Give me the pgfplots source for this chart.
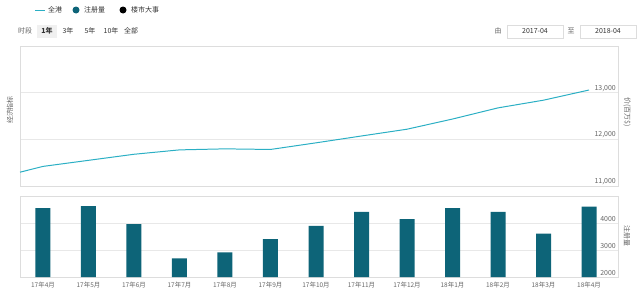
\documentclass[border=0pt]{standalone}
\usepackage{pgfplots}
\pgfplotsset{compat=1.18}
\usepackage{fontspec}
\setmainfont{Noto Sans CJK SC}
\definecolor{linec}{HTML}{2BAFC4}
\definecolor{barc}{HTML}{0D6478}
\definecolor{txt}{HTML}{666666}
\definecolor{dtxt}{HTML}{333333}
\definecolor{gridc}{HTML}{E8E8E8}
\definecolor{axc}{HTML}{DDDDDD}
\pgfplotstableread{
x y
-0.505 11296
0 11420
1 11550
2 11680
3 11774
4 11796
5 11783
6 11925
7 12072
8 12217
9 12435
10 12674
11 12839
12 13057
}\linedata
\pgfplotstableread{
x y
0 4549
1 4623
2 3963
3 2692
4 2912
5 3400
6 3890
7 4414
8 4147
9 4549
10 4414
11 3608
12 4608
}\bardata
\begin{document}
\begin{tikzpicture}[font=\fontsize{7}{8}\selectfont]
\path[use as bounding box] (0,0) rectangle (640bp,-303bp);
% legend
\draw[linec, line width=1pt] (35bp,-10bp) -- (45bp,-10bp);
\node[anchor=west, text=dtxt, inner sep=1bp] at (47bp,-10bp) {全港};
\fill[barc] (76bp,-10bp) circle (3.5bp);
\node[anchor=west, text=dtxt, inner sep=1bp] at (83bp,-10bp) {注册量};
\fill[black] (123bp,-10bp) circle (3.5bp);
\node[anchor=west, text=dtxt, inner sep=1bp] at (130bp,-10bp) {楼市大事};
% toolbar
\node[anchor=west, text=txt, inner sep=1bp] at (17bp,-31bp) {时段};
\fill[gray!12] (37bp,-24.5bp) rectangle (57bp,-37.5bp);
\node[text=dtxt, inner sep=1bp] at (47bp,-31bp) {\bfseries 1年};
\node[text=dtxt, inner sep=1bp] at (68bp,-31bp) {3年};
\node[text=dtxt, inner sep=1bp] at (90bp,-31bp) {5年};
\node[text=dtxt, inner sep=1bp] at (111bp,-31bp) {10年};
\node[text=dtxt, inner sep=1bp] at (131bp,-31bp) {全部};
\node[text=txt, inner sep=1bp] at (498bp,-31bp) {由};
\draw[axc, fill=white] (507bp,-25bp) rectangle (563bp,-38bp);
\node[text=dtxt, inner sep=1bp] at (535bp,-31.5bp) {2017-04};
\node[text=txt, inner sep=1bp] at (571bp,-31bp) {至};
\draw[axc, fill=white] (580bp,-25bp) rectangle (636bp,-38bp);
\node[text=dtxt, inner sep=1bp] at (608bp,-31.5bp) {2018-04};
% top chart
\begin{axis}[
  at={(20bp,-46bp)}, anchor=north west, scale only axis,
  width=598bp, height=140bp,
  xmin=-0.505, xmax=12.637, ymin=11000, ymax=14000,
  xtick=\empty, ytick={11000,12000,13000},
  scaled y ticks=false,
  ymajorgrids, grid style={gridc, line width=0.6pt},
  axis line style={axc, line width=0.6pt},
  major tick length=0pt,
  yticklabel pos=right,
  yticklabel style={anchor=south east, inner sep=1bp, xshift=-1bp, text=txt, font=\fontsize{7}{8}\selectfont},
  /pgf/number format/assume math mode=true,
  /pgf/number format/1000 sep={,},
  clip=false,
]
\addplot[linec, line width=1pt] table[x=x, y=y] {\linedata};
\end{axis}
\node[rotate=90, text=txt, inner sep=1bp] at (10bp,-110bp) {经济指标};
\node[rotate=-90, text=txt, inner sep=1bp] at (627bp,-112bp) {价(百万\$)};
% bottom chart
\begin{axis}[
  at={(20bp,-196bp)}, anchor=north west, scale only axis,
  width=598bp, height=81bp,
  xmin=-0.505, xmax=12.637, ymin=2000, ymax=5000,
  xtick={0,...,12},
  xticklabels={17年4月,17年5月,17年6月,17年7月,17年8月,17年9月,17年10月,17年11月,17年12月,18年1月,18年2月,18年3月,18年4月},
  xticklabel style={text=txt, font=\fontsize{6.5}{8}\selectfont, inner sep=1bp, yshift=-4bp},
  ytick={2000,3000,4000},
  scaled y ticks=false,
  ymajorgrids, grid style={gridc, line width=0.6pt},
  axis line style={axc, line width=0.6pt},
  major tick length=0pt,
  yticklabel pos=right,
  yticklabel style={anchor=south east, inner sep=1bp, xshift=-1bp, text=txt, font=\fontsize{7}{8}\selectfont},
  /pgf/number format/assume math mode=true,
  /pgf/number format/1000 sep={},
  clip=false,
]
\addplot[ybar, bar width=15bp, bar shift=0pt, fill=barc, draw=none] table[x=x, y=y] {\bardata};
\end{axis}
\node[rotate=-90, text=txt, inner sep=1bp] at (627bp,-236bp) {注册量};
\end{tikzpicture}
\end{document}
